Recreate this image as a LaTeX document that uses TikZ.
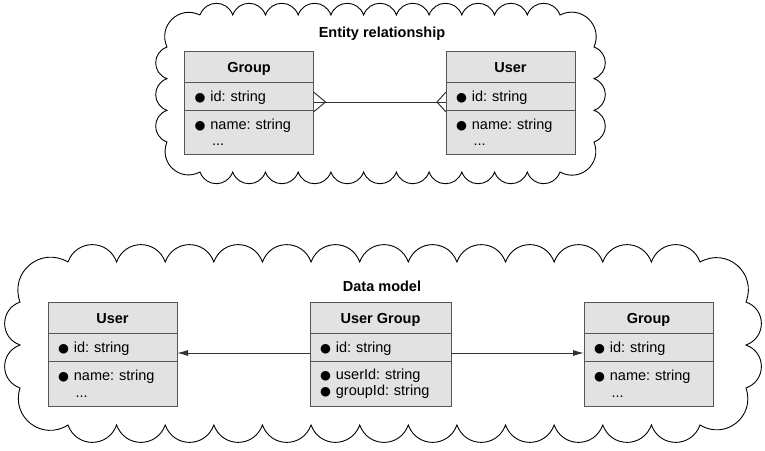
\documentclass[tikz,border=0pt]{standalone}
\usepackage{fontspec}
\setmainfont{Liberation Sans}
\newfontfamily\dejavu{DejaVu Sans}
\usetikzlibrary{calc, arrows.meta, positioning}
\definecolor{boxfill}{HTML}{E2E2E2}
\definecolor{boxline}{HTML}{555555}
\definecolor{connline}{HTML}{333333}
\newcommand\bul{{\dejavu\fontsize{12.5}{12.5}\selectfont ●}\hspace{5pt}}
\frenchspacing
\begin{document}
\begin{tikzpicture}[x=1pt,y=-1pt,
  font=\fontsize{14.5}{17.5}\selectfont,
  part/.style={draw=boxline, fill=boxfill, line width=1pt, inner sep=0pt, outer sep=0pt},
  head/.style={part, minimum height=31pt, text height=12pt, text depth=1pt, font=\fontsize{14.5}{17.5}\selectfont\bfseries},
  rowid/.style={part, minimum height=28pt, text height=12pt, text depth=1pt, align=left, inner xsep=10pt},
  rowrest/.style={part, minimum height=45pt, align=left, inner xsep=10pt},
  title/.style={font=\fontsize{14.5}{17.5}\selectfont\bfseries},
  cloudline/.style={draw=black, line width=0.9pt},
  puff/.style={bend left=70, looseness=1.3},
  conn/.style={draw=connline, line width=1pt},
  arr/.style={conn, -{Latex[length=11pt,width=6pt]}}
]
\useasboundingbox (0,0) rectangle (765,450);

% ---------- top cloud ----------
\coordinate (a1) at (200,15);  \coordinate (a2) at (560,15);
\coordinate (a3) at (594,47);  \coordinate (a4) at (594,142);
\coordinate (a5) at (560,172); \coordinate (a6) at (200,172);
\coordinate (a7) at (167,142); \coordinate (a8) at (167,47);
\draw[cloudline] (a1)
  \foreach \i in {1,...,11}{ to[puff] ($(a1)!\i/11!(a2)$) }
  to[puff] (a3)
  \foreach \i in {1,...,3}{ to[puff] ($(a3)!\i/3!(a4)$) }
  to[puff] (a5)
  \foreach \i in {1,...,11}{ to[puff] ($(a5)!\i/11!(a6)$) }
  to[puff] (a7)
  \foreach \i in {1,...,3}{ to[puff] ($(a7)!\i/3!(a8)$) }
  to[puff] (a1);
\node[title] (ertitle) at (382,34) {Entity relationship};

% Group (top)
\node[head, minimum width=129pt, anchor=north] (tgh) at (249,51) {Group};
\node[rowid, text width=109pt, below=0pt of tgh] (tgid) {\bul id: string};
\node[rowrest, minimum height=44pt, text width=109pt, below=0pt of tgid] (tgr) {\bul name: string\\[-1pt]\hspace{17.5pt}...};

% User (top)
\node[head, minimum width=129pt, anchor=north] (tuh) at (510.5,51) {User};
\node[rowid, text width=109pt, below=0pt of tuh] (tuid) {\bul id: string};
\node[rowrest, minimum height=44pt, text width=109pt, below=0pt of tuid] (tur) {\bul name: string\\[-1pt]\hspace{17.5pt}...};

% relation with crow's feet
\coordinate (ga) at ([shift={(12pt,-6pt)}]tgid.east);
\coordinate (ua) at ([shift={(-9pt,-6pt)}]tuid.west);
\draw[conn] ([yshift=-6pt]tgid.east) -- ([yshift=-6pt]tuid.west);
\draw[conn] ([yshift=4pt]tgid.east) -- (ga) -- ([yshift=-16pt]tgid.east);
\draw[conn] ([yshift=4pt]tuid.west) -- (ua) -- ([yshift=-16pt]tuid.west);

% ---------- bottom cloud ----------
\coordinate (b1) at (68,262);  \coordinate (b2) at (700,262);
\coordinate (b3) at (746,302); \coordinate (b4) at (746,388);
\coordinate (b5) at (700,425); \coordinate (b6) at (68,425);
\coordinate (b7) at (20,388);  \coordinate (b8) at (20,302);
\draw[cloudline] (b1)
  \foreach \i in {1,...,13}{ to[puff] ($(b1)!\i/13!(b2)$) }
  to[puff] (b3)
  \foreach \i in {1,...,2}{ to[puff] ($(b3)!\i/2!(b4)$) }
  to[puff] (b5)
  \foreach \i in {1,...,13}{ to[puff] ($(b5)!\i/13!(b6)$) }
  to[puff] (b7)
  \foreach \i in {1,...,2}{ to[puff] ($(b7)!\i/2!(b8)$) }
  to[puff] (b1);
\node[title] (dmtitle) at (382,286) {Data model};

% User (bottom)
\node[head, minimum width=129pt, anchor=north] (buh) at (112.5,302) {User};
\node[rowid, text width=109pt, below=0pt of buh] (buid) {\bul id: string};
\node[rowrest, text width=109pt, below=0pt of buid] (bur) {\bul name: string\\[-1pt]\hspace{17.5pt}...};

% User Group (bottom)
\node[head, minimum width=141pt, anchor=north] (bugh) at (380.5,302) {User Group};
\node[rowid, text width=121pt, below=0pt of bugh] (bugid) {\bul id: string};
\node[rowrest, text width=121pt, below=0pt of bugid] (bugr) {\bul userId: string\\[-1pt]\bul groupId: string};

% Group (bottom)
\node[head, minimum width=129pt, anchor=north] (bgh) at (648.5,302) {Group};
\node[rowid, text width=109pt, below=0pt of bgh] (bgid) {\bul id: string};
\node[rowrest, text width=109pt, below=0pt of bgid] (bgr) {\bul name: string\\[-1pt]\hspace{17.5pt}...};

% arrows
\draw[arr] ([yshift=-6pt]bugid.west) -- ([yshift=-6pt]buid.east);
\draw[arr] ([yshift=-6pt]bugid.east) -- ([yshift=-6pt]bgid.west);
\end{tikzpicture}
\end{document}
